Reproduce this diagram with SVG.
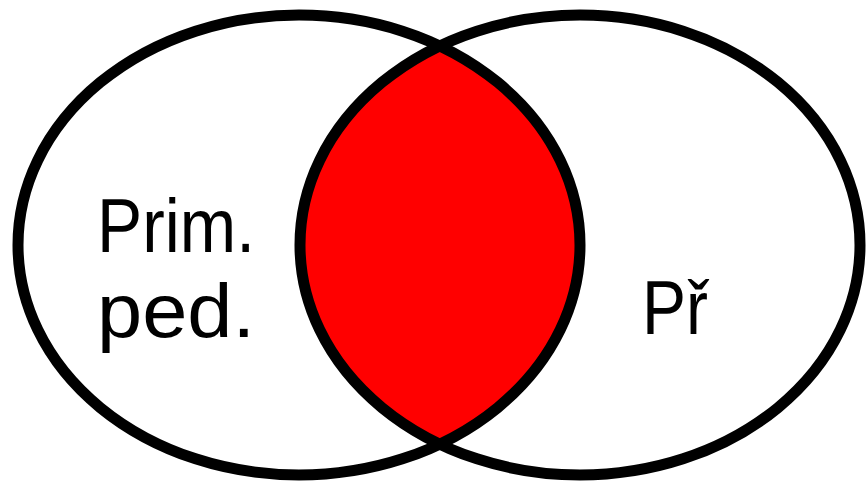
<svg xmlns="http://www.w3.org/2000/svg" width="867" height="481" viewBox="0 0 867 481">
  <style>
    .ring { fill: none; stroke: #000; stroke-width: 11; }
    .lbl { font-family: "Liberation Sans", Arial, sans-serif; font-size: 76px; fill: #000; }
  </style>
  <defs>
    <clipPath id="clipLeft">
      <ellipse cx="299" cy="245" rx="281" ry="230"/>
    </clipPath>
  </defs>
  <g id="intersection">
    <ellipse cx="580" cy="245" rx="280" ry="230" fill="#ff0000" clip-path="url(#clipLeft)"/>
  </g>
  <g id="set-left">
    <ellipse class="ring" cx="299" cy="245" rx="281" ry="230"/>
    <text class="lbl" x="97" y="252" textLength="158" lengthAdjust="spacingAndGlyphs">Prim.</text>
    <text class="lbl" x="97" y="337" textLength="158" lengthAdjust="spacingAndGlyphs">ped.</text>
  </g>
  <g id="set-right">
    <ellipse class="ring" cx="580" cy="245" rx="280" ry="230"/>
    <text class="lbl" x="642" y="334" textLength="66" lengthAdjust="spacingAndGlyphs">Př</text>
  </g>
  <g id="connectors"/>
</svg>
